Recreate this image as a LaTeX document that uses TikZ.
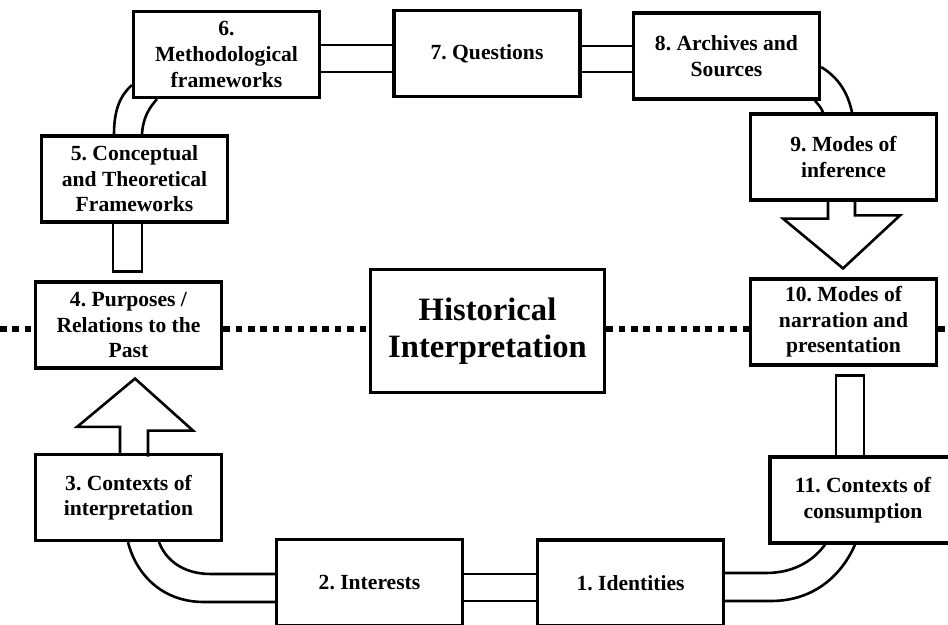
\documentclass[tikz,border=0pt]{standalone}
\usepackage{fontspec}
\setmainfont{Liberation Serif}
\usetikzlibrary{calc}
\frenchspacing

\begin{document}
\begin{tikzpicture}[
    x=0.5pt, y=-0.5pt,
    stage/.style={rectangle, draw, line width=1.6pt, minimum width=93pt, minimum height=43pt, align=center, inner sep=1pt, font=\fontsize{10.8}{12.8}\selectfont\bfseries},
    core/.style={stage, minimum width=117pt, minimum height=61.5pt, font=\fontsize{16.3}{18.7}\selectfont\bfseries},
    tube/.style={line width=1.3pt},
    blockarrow/.style={line width=1.3pt, line join=miter},
    divider/.style={line width=3pt, dash pattern=on 3.3pt off 2.9pt}
]
\useasboundingbox (0,0) rectangle (948,625);

% Stage nodes
\node[stage] (n1) at (630.5,583) {1. Identities};
\node[stage] (n2) at (369.5,582.5) {2. Interests};
\node[stage] (n3) at (128.5,497.5) {3. Contexts of\\interpretation};
\node[stage] (n4) at (128.5,325) {4. Purposes /\\Relations to the\\Past};
\node[stage] (n5) at (134.5,179) {5. Conceptual\\and Theoretical\\Frameworks};
\node[stage] (n6) at (226.5,54.5) {6.\\Methodological\\frameworks};
\node[stage] (n7) at (487,53.5) {7. Questions};
\node[stage] (n8) at (726.5,56) {8. Archives and\\Sources};
\node[stage] (n9) at (843.5,157) {9. Modes of\\inference};
\node[stage] (n10) at (843.5,322) {10. Modes of\\narration and\\presentation};
\node[stage] (n11) at (863,500) {11. Contexts of\\consumption};

% Centre node
\node[core] (hi) at (487.5,331) {Historical\\Interpretation};

% Dotted axis
\coordinate (edgeL) at (0,329);
\coordinate (edgeR) at (948,329);
\draw[divider] (edgeL) -- (n4.west |- edgeL);
\draw[divider] (n4.east |- edgeL) -- (hi.west |- edgeL);
\draw[divider] (hi.east |- edgeL) -- (n10.west |- edgeL);
\draw[divider] (n10.east |- edgeL) -- (edgeR);

% Straight tubes
\draw[tube] ($(n2.east)+(0,-8.5)$) -- ($(n1.west)+(0,-9)$);
\draw[tube] ($(n2.east)+(0,18.5)$) -- ($(n1.west)+(0,18)$);
\draw[tube] ($(n6.east)+(0,-9.5)$) -- ($(n7.west)+(0,-8.5)$);
\draw[tube] ($(n6.east)+(0,17.5)$) -- ($(n7.west)+(0,18.5)$);
\draw[tube] ($(n7.east)+(0,-7.5)$) -- ($(n8.west)+(0,-10)$);
\draw[tube] ($(n7.east)+(0,18.5)$) -- ($(n8.west)+(0,16)$);
\draw[tube] ($(n5.south)+(-21.5,0)$) -- ++(0,48) -- ++(29,0) -- ++(0,-48);
\draw[tube] ($(n11.north)+(-27,0)$) -- ++(0,-80) -- ++(28,0) -- ++(0,80);

% Curved tubes
\draw[tube] ($(n1.east)+(0,-10)$) -- ++(41,0) .. controls +(30,0) and +(-10,14) .. ($(n11.south)+(-38,0)$);
\draw[tube] ($(n1.east)+(0,18)$) -- ++(46,0) .. controls +(45,0) and +(-12,28) .. ($(n11.south)+(-8,0)$);
\draw[tube] ($(n2.west)+(0,-8.5)$) -- ++(-64,0) .. controls +(-30,0) and +(6,16) .. ($(n3.south)+(30.5,0)$);
\draw[tube] ($(n2.west)+(0,19.5)$) -- ++(-71,0) .. controls +(-42,0) and +(8,32) .. ($(n3.south)+(-0.5,0)$);
\draw[tube] ($(n5.north)+(-20.5,0)$) .. controls +(0,-26) and +(-11,10) .. ($(n6.west)+(0,30.5)$);
\draw[tube] ($(n5.north)+(7.5,0)$) .. controls +(1,-18) and +(-7,8) .. ($(n6.south)+(-69.5,0)$);
\draw[tube] ($(n8.east)+(0,11)$) .. controls +(18,11) and +(-4,-19) .. ($(n9.north)+(8.5,0)$);
\draw[tube] ($(n8.south)+(88.5,0)$) .. controls +(4,5) and +(-2,-5) .. ($(n9.north)+(-20.5,0)$);

% Block arrows
\draw[blockarrow] ($(n3.north)+(-8.5,0)$) -- ++(0,-26) -- ++(-43,0) -- ($(n4.south)+(6.5,9)$) -- ++(58,52) -- ++(-45,0) -- ++(0,26);
\draw[blockarrow] ($(n9.south)+(-15.5,0)$) -- ++(0,17) -- ++(-45,0) -- ($(n10.north)+(-0.5,-9)$) -- ++(57,-53) -- ++(-45,0) -- ++(0,-17);

\end{tikzpicture}
\end{document}
